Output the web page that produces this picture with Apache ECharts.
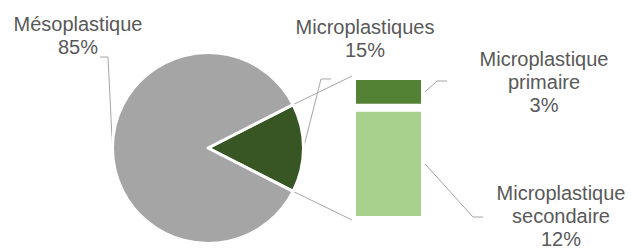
<!DOCTYPE html>
<html><head><meta charset="utf-8">
<script src="https://cdn.jsdelivr.net/npm/echarts@6/dist/echarts.min.js"></script>
<style>html,body{margin:0;padding:0;background:#fff}#c{width:631px;height:248px}</style>
</head><body><div id="c"></div>
<script>
// ---- data ----
const pieNames = ['Microplastiques', 'Mésoplastique'];
const pieValues = [15, 85];
const barNames = ['Microplastique\nsecondaire', 'Microplastique\nprimaire'];
const barValues = [11.7, 3.3];

// ---- styling / layout ----
const pieColors = ['#375623', '#A5A5A5'];
const barColors = ['#A9D18E', '#548235'];
const TEXT = '#595959', LINE = '#A6A6A6';
const FONT = {color: TEXT, fontSize: 20, lineHeight: 23, fontFamily: 'Liberation Sans, Arial, sans-serif'};
const PIE_C = [208, 148], PIE_R = 95.5, START = 27;
const GRID = {left: 352, top: 76, width: 73, height: 144};
const pieLabelCfg = [
  {x: 365, y: 38.5, elbow: [[321, 79], [331, 79]]},
  {x: 78, y: 35.5, elbow: [[108, 57], [100, 57]]}
];
const barLabelCfg = [
  {x: 561, y: 216, elbow: [[473, 217], [483, 217]]},
  {x: 544, y: 82, elbow: [[437, 81], [447, 81]]}
];

const pieTotal = pieValues.reduce((a, b) => a + b, 0);
function piePoint(angleDeg) {
  const a = angleDeg * Math.PI / 180;
  return [PIE_C[0] + PIE_R * Math.cos(a), PIE_C[1] - PIE_R * Math.sin(a)];
}
function midAngle(i) {
  let cum = 0;
  for (let k = 0; k < i; k++) cum += pieValues[k];
  return START - (cum + pieValues[i] / 2) / pieTotal * 360;
}

const chart = echarts.init(document.getElementById('c'), null, {renderer: 'svg'});
chart.setOption({
  animation: false,
  backgroundColor: '#fff',
  grid: {left: GRID.left, top: GRID.top, width: GRID.width, height: GRID.height},
  xAxis: {type: 'category', data: [pieNames[0]], show: false},
  yAxis: {type: 'value', min: 0, max: pieValues[0], show: false},
  series: [
    {
      type: 'pie', center: PIE_C, radius: PIE_R, startAngle: START, clockwise: true,
      silent: true, emphasis: {disabled: true}, avoidLabelOverlap: false,
      data: pieNames.map((n, i) => ({name: n, value: pieValues[i], itemStyle: {color: pieColors[i]}})),
      itemStyle: {borderColor: '#fff', borderWidth: 3},
      label: Object.assign({show: true, position: 'outside', align: 'center', overflow: 'none',
        alignTo: 'none', bleedMargin: 0,
        formatter: p => p.name + '\n' + Math.round(p.value) + '%'}, FONT),
      labelLine: {show: true, length: 10, length2: 10, lineStyle: {color: LINE, width: 1}},
      labelLayout: function (p) {
        const cfg = pieLabelCfg[p.dataIndex];
        const start = piePoint(midAngle(p.dataIndex));
        return {x: cfg.x, y: cfg.y, align: 'center', verticalAlign: 'middle', width: 200,
          labelLinePoints: [start, cfg.elbow[0], cfg.elbow[1]]};
      }
    }
  ].concat(barNames.map((n, i) => ({
    type: 'bar', name: n, stack: 'micro', barWidth: '100%', silent: true,
    emphasis: {disabled: true},
    data: [barValues[i]],
    itemStyle: {color: barColors[i], borderColor: '#fff', borderWidth: 4},
    label: Object.assign({show: true, align: 'center',
      formatter: p => p.seriesName + '\n' + Math.round(p.value) + '%'}, FONT),
    labelLayout: function () {
      const cfg = barLabelCfg[i];
      return {x: cfg.x, y: cfg.y, align: 'center', verticalAlign: 'middle'};
    }
  })))
});

// leader lines for bar labels and connectors between pie and bar
const graphics = [];
const gridRight = GRID.left + GRID.width;
let cum = 0;
barValues.forEach((v, i) => {
  const yMid = chart.convertToPixel({yAxisIndex: 0}, cum + v / 2);
  cum += v;
  const cfg = barLabelCfg[i];
  graphics.push({type: 'polyline', silent: true,
    shape: {points: [[gridRight, yMid], cfg.elbow[0], cfg.elbow[1]]},
    style: {stroke: LINE, lineWidth: 1, fill: null}});
});
const yTop = chart.convertToPixel({yAxisIndex: 0}, pieValues[0]);
const yBot = chart.convertToPixel({yAxisIndex: 0}, 0);
const aTop = START, aBot = START - pieValues[0] / pieTotal * 360;
[[piePoint(aTop), [GRID.left, yTop]], [piePoint(aBot), [GRID.left, yBot]]].forEach(seg => {
  graphics.push({type: 'line', silent: true,
    shape: {x1: seg[0][0], y1: seg[0][1], x2: seg[1][0], y2: seg[1][1]},
    style: {stroke: LINE, lineWidth: 1}});
});
chart.setOption({graphic: graphics});
</script>
</body></html>
